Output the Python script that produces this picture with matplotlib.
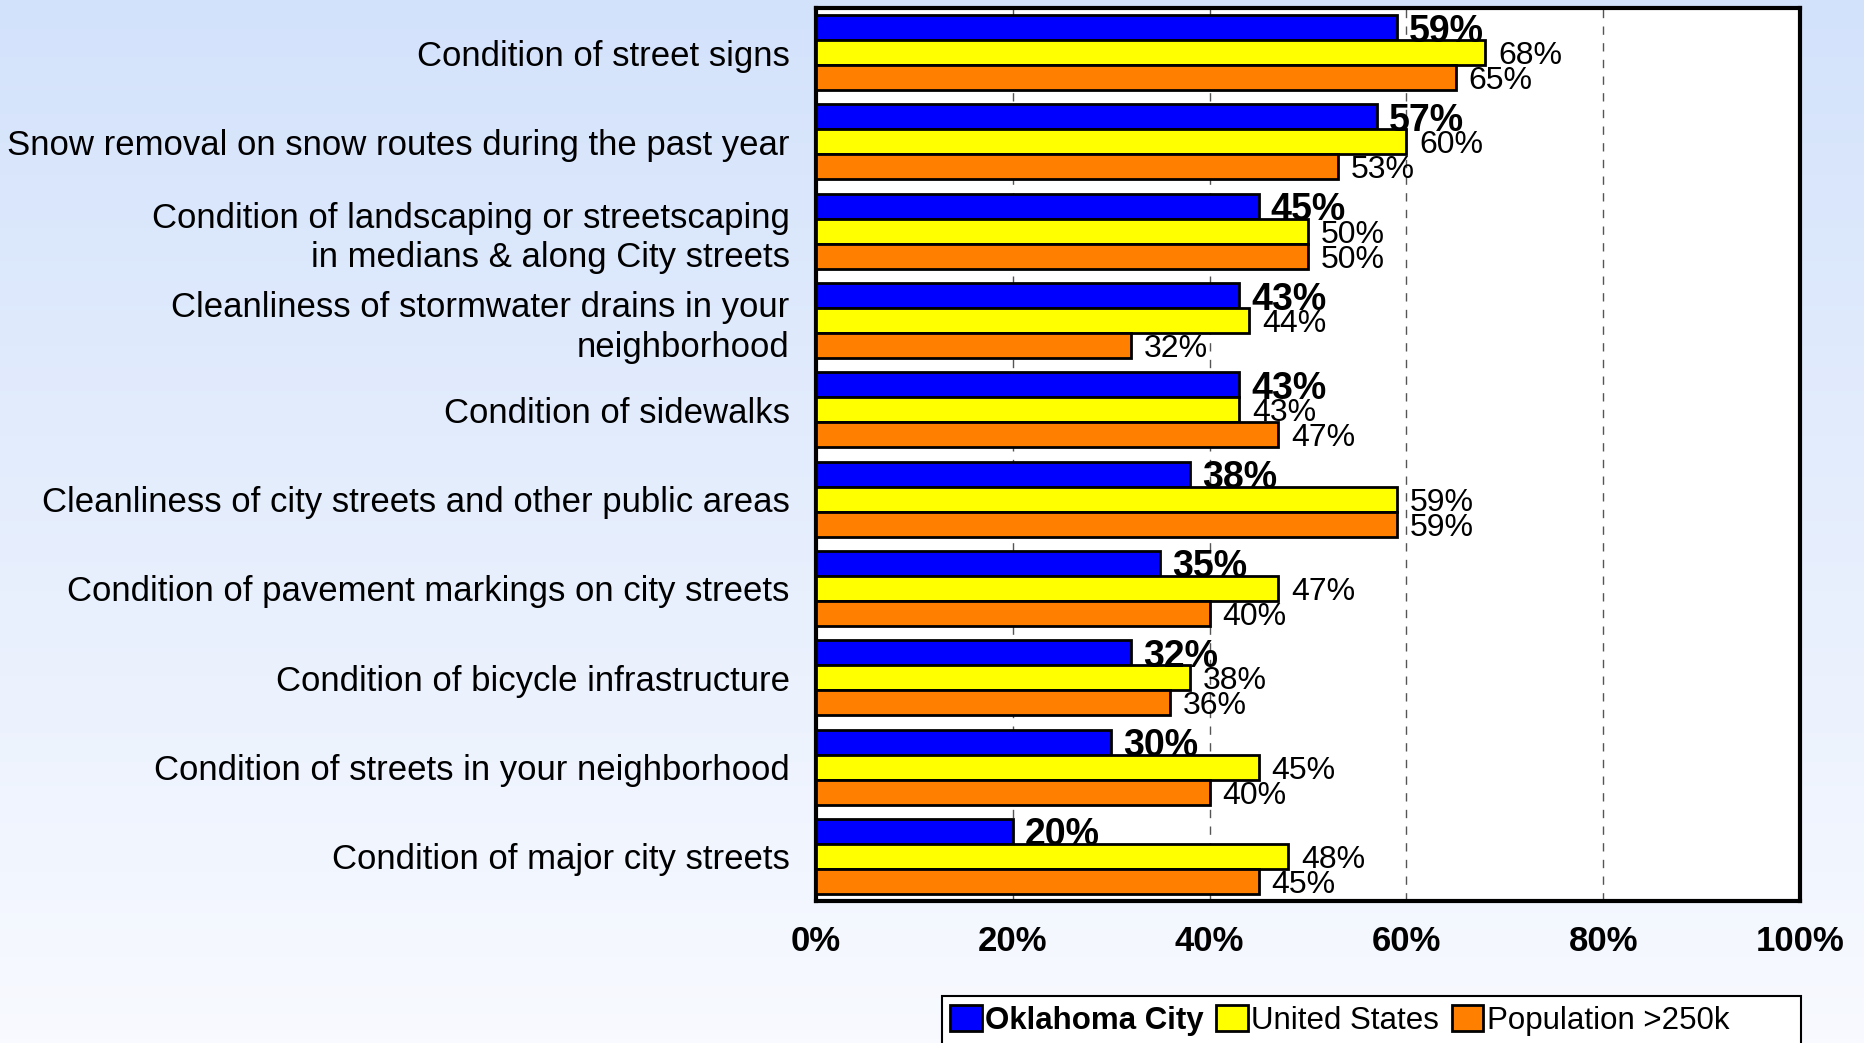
import numpy as np
import matplotlib.pyplot as plt
from matplotlib.patches import Rectangle

categories = ['Condition of street signs',
              'Snow removal on snow routes during the past year',
              'Condition of landscaping or streetscaping\nin medians & along City streets',
              'Cleanliness of stormwater drains in your\nneighborhood',
              'Condition of sidewalks',
              'Cleanliness of city streets and other public areas',
              'Condition of pavement markings on city streets',
              'Condition of bicycle infrastructure',
              'Condition of streets in your neighborhood',
              'Condition of major city streets']
okc = [59, 57, 45, 43, 43, 38, 35, 32, 30, 20]
us = [68, 60, 50, 44, 43, 59, 47, 38, 45, 48]
big = [65, 53, 50, 32, 47, 59, 40, 36, 40, 45]
series_names = ['Oklahoma City', 'United States', 'Population >250k']
colors = ['#0000ff', '#ffff00', '#ff8000']

plt.rcParams['font.family'] = ['Liberation Sans', 'DejaVu Sans']

fig = plt.figure(figsize=(18.64, 10.43), dpi=100)

# background gradient
bg = fig.add_axes([0, 0, 1, 1], zorder=-10)
grad = np.linspace(0, 1, 256).reshape(-1, 1)
top = np.array([211, 226, 251]) / 255
bot = np.array([248, 250, 255]) / 255
img = top + (bot - top) * grad[:, :, None]
bg.imshow(img, aspect='auto', extent=[0, 1, 0, 1])
bg.axis('off')

W, H = 1864, 1043
ax = fig.add_axes([816 / W, 1 - 901 / H, (1800 - 816) / W, (901 - 8) / H])
ax.set_facecolor('white')

y = np.arange(len(categories))
h = 0.28
for vals, off, col, name in zip([okc, us, big], [-h, 0, h], colors, series_names):
    ax.barh(y + off, vals, h, color=col, edgecolor='black', linewidth=2, label=name, zorder=3)
    for yi, v in zip(y, vals):
        if name == 'Oklahoma City':
            ax.text(v + 1.2, yi + off, f'{v}%', va='center_baseline', ha='left', fontsize=27,
                    fontweight='bold', zorder=4)
        else:
            ax.text(v + 1.3, yi + off, f'{v}%', va='center_baseline', ha='left', fontsize=23,
                    zorder=4)

ax.set_xlim(0, 100)
ax.set_ylim(9.5, -0.5)
ax.set_xticks([0, 20, 40, 60, 80, 100])
ax.set_xticklabels(['0%', '20%', '40%', '60%', '80%', '100%'], fontsize=25, fontweight='bold')
ax.set_yticks(y)
ax.set_yticklabels(categories, fontsize=25, multialignment='right', linespacing=1.25)
ax.tick_params(axis='y', length=0, pad=19)
ax.tick_params(axis='x', length=0, pad=17)
for xv in [20, 40, 60, 80]:
    ax.axvline(xv, color='#555555', linestyle=(0, (6, 6)), linewidth=1, zorder=1)
for s in ax.spines.values():
    s.set_linewidth(3)

# legend frame spans to the right edge of the plot and runs off the bottom
fig.patches.append(Rectangle((942 / W, -0.01), (1801 - 942) / W, 0.01 + (1043 - 996) / H,
                             transform=fig.transFigure, facecolor='white',
                             edgecolor='black', linewidth=1.5, zorder=1))
leg = fig.legend(loc='upper left', bbox_to_anchor=(944 / W, 1 - 999 / H), ncol=3,
                 fontsize=22.5, frameon=False,
                 handlelength=1.0, handleheight=0.9, handletextpad=0.12, columnspacing=0.4,
                 borderpad=0.2, borderaxespad=0)
leg.get_texts()[0].set_fontweight('bold')

fig.savefig('out.png', dpi=100)
